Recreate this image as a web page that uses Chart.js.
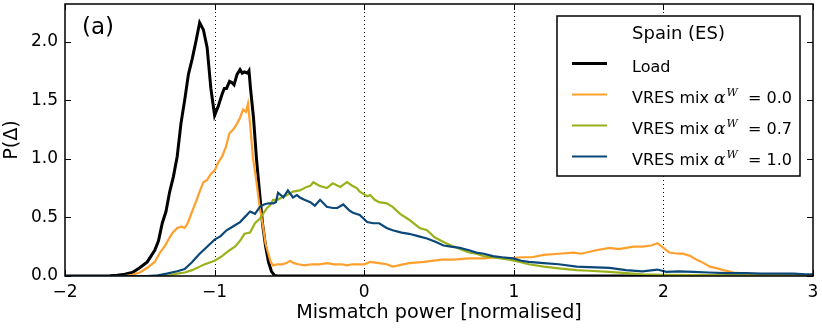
<!DOCTYPE html>
<html><head><meta charset="utf-8">
<script src="https://cdn.jsdelivr.net/npm/chart.js@4.4.0/dist/chart.umd.min.js"></script>
<style>html,body{margin:0;padding:0;background:#fff;}#wrap{width:822px;height:329px;}</style>
</head><body><div id="wrap"><canvas id="c" width="822" height="329"></canvas></div>
<script>
// ---- data ----
const xTicks = [-2, -1, 0, 1, 2, 3];
const yTicks = [0, 0.5, 1.0, 1.5, 2.0];

const loadX = [-2.0,-1.8,-1.7,-1.65,-1.6,-1.55,-1.5,-1.45,-1.4,-1.375,-1.35,-1.325,-1.3,-1.275,-1.25,-1.225,-1.2,-1.175,-1.15,-1.125,-1.1,-1.075,-1.05,-1.025,-1.0,-0.975,-0.95,-0.935,-0.92,-0.9,-0.885,-0.87,-0.85,-0.83,-0.815,-0.8,-0.78,-0.77,-0.76,-0.74,-0.72,-0.7,-0.68,-0.66,-0.64,-0.62,-0.6,-0.58,3.0];
const loadY = [0,0,0.003,0.006,0.015,0.03,0.07,0.12,0.22,0.3,0.45,0.55,0.72,0.85,1.02,1.3,1.5,1.72,1.85,2.0,2.16,2.1,1.95,1.6,1.37,1.45,1.55,1.6,1.6,1.66,1.65,1.63,1.72,1.76,1.73,1.74,1.73,1.75,1.6,1.35,1.0,0.72,0.45,0.26,0.12,0.04,0.005,0,0];

const mix00X = [-2,-1.6,-1.55,-1.5,-1.45,-1.4,-1.365,-1.33,-1.3,-1.28,-1.25,-1.22,-1.2,-1.18,-1.15,-1.12,-1.1,-1.075,-1.05,-1.025,-1.0,-0.975,-0.95,-0.925,-0.9,-0.875,-0.85,-0.83,-0.81,-0.79,-0.777,-0.763,-0.743,-0.72,-0.7,-0.676,-0.66,-0.643,-0.625,-0.61,-0.58,-0.55,-0.52,-0.496,-0.47,-0.44,-0.4,-0.35,-0.3,-0.25,-0.2,-0.15,-0.115,-0.08,-0.04,0,0.04,0.1,0.15,0.19,0.23,0.3,0.4,0.52,0.6,0.7,0.8,0.9,0.97,1.05,1.12,1.2,1.3,1.4,1.45,1.55,1.64,1.7,1.75,1.8,1.86,1.92,1.96,2.0,2.04,2.1,2.13,2.18,2.22,2.27,2.31,2.36,2.4,2.47,2.56,2.65,2.8,3.0];
const mix00Y = [0,0,0.01,0.03,0.07,0.12,0.2,0.26,0.33,0.37,0.41,0.42,0.41,0.45,0.55,0.65,0.72,0.8,0.82,0.87,0.9,0.97,1.02,1.1,1.22,1.25,1.3,1.35,1.42,1.4,1.47,1.3,1.0,0.8,0.6,0.42,0.28,0.2,0.12,0.09,0.1,0.1,0.11,0.13,0.11,0.1,0.09,0.1,0.1,0.11,0.1,0.1,0.09,0.1,0.1,0.1,0.12,0.11,0.1,0.08,0.09,0.11,0.12,0.14,0.14,0.15,0.15,0.16,0.15,0.16,0.16,0.18,0.19,0.2,0.19,0.22,0.24,0.23,0.24,0.25,0.25,0.26,0.28,0.24,0.2,0.19,0.19,0.17,0.14,0.11,0.08,0.065,0.05,0.03,0.02,0.01,0.005,0];

const mix07X = [-2,-1.4,-1.3,-1.25,-1.2,-1.15,-1.1,-1.065,-1.0,-0.95,-0.93,-0.9,-0.864,-0.83,-0.8,-0.763,-0.73,-0.697,-0.676,-0.65,-0.63,-0.61,-0.58,-0.55,-0.516,-0.476,-0.43,-0.385,-0.36,-0.34,-0.3,-0.25,-0.21,-0.16,-0.115,-0.08,-0.05,-0.03,0.02,0.04,0.07,0.1,0.15,0.19,0.24,0.3,0.37,0.42,0.47,0.53,0.58,0.64,0.7,0.75,0.8,0.86,0.91,0.97,1.04,1.1,1.2,1.3,1.42,1.5,1.64,1.75,1.86,2.0,2.2,2.5,3.0];
const mix07Y = [0,0,0.005,0.02,0.03,0.05,0.08,0.1,0.13,0.17,0.19,0.22,0.25,0.3,0.36,0.37,0.45,0.49,0.53,0.58,0.6,0.65,0.65,0.67,0.69,0.72,0.73,0.76,0.77,0.8,0.77,0.75,0.79,0.76,0.8,0.77,0.75,0.72,0.68,0.69,0.65,0.63,0.62,0.59,0.53,0.48,0.41,0.39,0.33,0.29,0.26,0.23,0.2,0.19,0.17,0.16,0.15,0.14,0.12,0.1,0.08,0.065,0.05,0.045,0.035,0.025,0.015,0.01,0.008,0.005,0];

const mix10X = [-2,-1.45,-1.38,-1.32,-1.25,-1.2,-1.15,-1.1,-1.05,-1.0,-0.96,-0.92,-0.88,-0.83,-0.8,-0.763,-0.73,-0.697,-0.67,-0.64,-0.61,-0.59,-0.576,-0.54,-0.51,-0.476,-0.45,-0.43,-0.4,-0.36,-0.33,-0.295,-0.25,-0.21,-0.18,-0.14,-0.1,-0.075,-0.03,0.02,0.06,0.1,0.15,0.19,0.25,0.3,0.36,0.42,0.48,0.53,0.58,0.64,0.7,0.75,0.8,0.86,0.92,0.995,1.05,1.1,1.2,1.3,1.42,1.5,1.64,1.75,1.86,1.96,2.02,2.1,2.2,2.3,2.42,2.55,2.65,2.75,2.87,2.95,3.0];
const mix10Y = [0,0,0.005,0.02,0.04,0.06,0.12,0.19,0.25,0.31,0.34,0.39,0.42,0.46,0.5,0.55,0.53,0.59,0.61,0.62,0.62,0.63,0.71,0.67,0.73,0.67,0.69,0.67,0.65,0.63,0.6,0.65,0.59,0.58,0.58,0.61,0.56,0.54,0.52,0.46,0.45,0.45,0.41,0.39,0.37,0.36,0.34,0.32,0.29,0.26,0.25,0.24,0.22,0.2,0.19,0.17,0.16,0.15,0.13,0.12,0.11,0.1,0.08,0.075,0.07,0.05,0.04,0.055,0.035,0.04,0.035,0.03,0.025,0.025,0.02,0.02,0.02,0.015,0.015];

const seriesNames = ['Load', 'VRES mix', 'VRES mix', 'VRES mix'];
const mixValues = [null, '0.0', '0.7', '1.0'];
const legendTitle = 'Spain (ES)';
const panelLabel = '(a)';
const colors = ['#000000', '#FFA02C', '#9BB11B', '#0B4879'];
const widths = [3, 2.2, 2.2, 2.2];

const pts = (xs, ys) => xs.map((x, i) => ({x, y: ys[i]}));
const FAM = '"DejaVu Sans", sans-serif';

const decor = {
  id: 'decor',
  beforeDatasetsDraw(chart) {
    const {ctx, chartArea: a, scales: {x}} = chart;
    ctx.save();
    ctx.strokeStyle = '#000'; ctx.lineWidth = 1; ctx.setLineDash([1, 3]);
    xTicks.forEach(v => {
      const px = Math.round(x.getPixelForValue(v)) + 0.5;
      if (px <= a.left + 2 || px >= a.right - 2) return;
      ctx.beginPath(); ctx.moveTo(px, a.top); ctx.lineTo(px, a.bottom); ctx.stroke();
    });
    ctx.restore();
  },
  afterDatasetsDraw(chart) {
    const {ctx, chartArea: a, scales: {x, y}} = chart;
    ctx.save();
    ctx.strokeStyle = '#000'; ctx.lineWidth = 1.5;
    ctx.strokeRect(a.left, a.top, a.right - a.left, a.bottom - a.top);
    ctx.lineWidth = 1; const tl = 6;
    xTicks.forEach(v => {
      const px = Math.round(x.getPixelForValue(v)) + 0.5;
      ctx.beginPath(); ctx.moveTo(px, a.bottom); ctx.lineTo(px, a.bottom - tl);
      ctx.moveTo(px, a.top); ctx.lineTo(px, a.top + tl); ctx.stroke();
    });
    yTicks.forEach(v => {
      const py = Math.round(y.getPixelForValue(v)) + 0.5;
      ctx.beginPath(); ctx.moveTo(a.left, py); ctx.lineTo(a.left + tl, py);
      ctx.moveTo(a.right, py); ctx.lineTo(a.right - tl, py); ctx.stroke();
    });
    ctx.fillStyle = '#000'; ctx.textBaseline = 'alphabetic'; ctx.textAlign = 'left';
    ctx.font = '23px ' + FAM;
    ctx.fillText(panelLabel, 82, 34);
    const L = 557, R = 800, T = 16, B = 176;
    ctx.fillStyle = '#fff'; ctx.fillRect(L, T, R - L, B - T);
    ctx.strokeStyle = '#000'; ctx.lineWidth = 1.5; ctx.strokeRect(L, T, R - L, B - T);
    ctx.fillStyle = '#000'; ctx.textAlign = 'center';
    ctx.font = '18px ' + FAM;
    ctx.fillText(legendTitle, (L + R) / 2, 39);
    ctx.textAlign = 'left';
    for (let i = 0; i < seriesNames.length; i++) {
      const ly = 63.5 + 31 * i;
      ctx.strokeStyle = colors[i]; ctx.lineWidth = widths[i];
      ctx.beginPath(); ctx.moveTo(572, ly); ctx.lineTo(607, ly); ctx.stroke();
      ctx.fillStyle = '#000';
      let tx = 632; const by = ly + 8;
      ctx.font = '16px ' + FAM;
      if (mixValues[i] === null) { ctx.fillText(seriesNames[i], tx, by); continue; }
      const head = seriesNames[i] + ' ';
      ctx.fillText(head, tx, by); tx += ctx.measureText(head).width;
      ctx.font = 'italic 17px "DejaVu Serif", serif';
      ctx.fillText('\u03b1', tx, by); tx += ctx.measureText('\u03b1').width + 1;
      ctx.font = 'italic 11px "DejaVu Serif", serif';
      ctx.fillText('W', tx, by - 7);
      ctx.font = '16px ' + FAM;
      ctx.fillText('= ' + mixValues[i], 748, by);
    }
    ctx.restore();
  }
};

const series = [[loadX, loadY], [mix00X, mix00Y], [mix07X, mix07Y], [mix10X, mix10Y]];
new Chart(document.getElementById('c'), {
  type: 'line',
  data: {
    datasets: series.map((s, i) => ({
      label: seriesNames[i] + (mixValues[i] ? ' ' + mixValues[i] : ''),
      data: pts(s[0], s[1]),
      borderColor: colors[i], borderWidth: widths[i],
      pointRadius: 0, tension: 0, fill: false,
      order: 4 - i
    }))
  },
  options: {
    responsive: false, animation: false, devicePixelRatio: 1,
    layout: {padding: {top: 4, right: 9, left: 0, bottom: 0}},
    plugins: {legend: {display: false}, tooltip: {enabled: false}},
    scales: {
      x: {
        type: 'linear', min: -2, max: 3,
        afterBuildTicks: s => { s.ticks = xTicks.map(v => ({value: v})); },
        afterFit: s => { s.height = 53; s.paddingLeft = 0; s.paddingRight = 0; },
        grid: {display: false, drawTicks: false}, border: {display: false},
        ticks: {color: '#000', font: {family: FAM, size: 17}, padding: 6, maxRotation: 0, autoSkip: false,
          callback: v => v < 0 ? '\u2212' + Math.abs(v) : String(v)},
        title: {display: true, text: 'Mismatch power [normalised]', color: '#000',
          font: {family: FAM, size: 19.2}, padding: {top: 0, bottom: 4}}
      },
      y: {
        type: 'linear', min: 0, max: 2.32,
        afterBuildTicks: s => { s.ticks = yTicks.map(v => ({value: v})); },
        afterFit: s => { s.width = 65; s.paddingTop = 0; s.paddingBottom = 0; },
        grid: {display: false, drawTicks: false}, border: {display: false},
        ticks: {color: '#000', font: {family: FAM, size: 17}, padding: 7, autoSkip: false,
          callback: v => Number(v).toFixed(1)},
        title: {display: true, text: 'P(\u0394)', color: '#000',
          font: {family: FAM, size: 19.2}, padding: {top: 0, bottom: 0}}
      }
    }
  },
  plugins: [decor]
});
</script></body></html>
